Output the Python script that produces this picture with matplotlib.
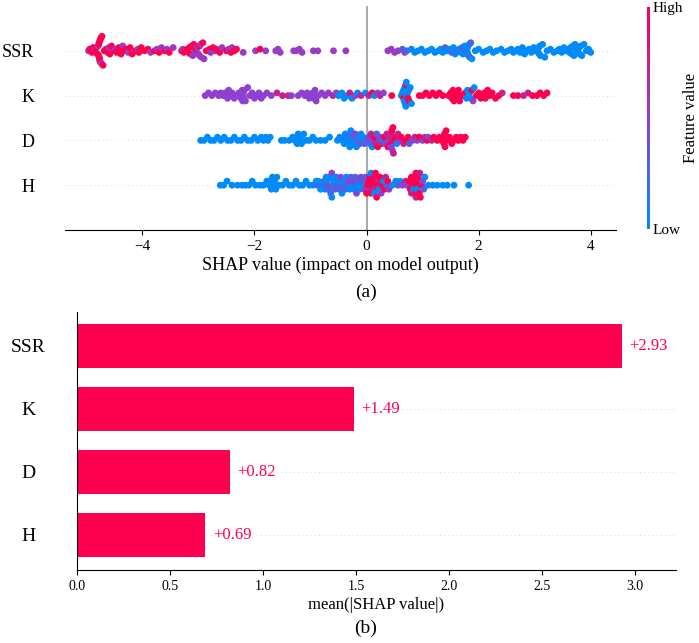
import numpy as np
import matplotlib
matplotlib.use("Agg")
import matplotlib.pyplot as plt
from matplotlib.colors import LinearSegmentedColormap

plt.rcParams['font.family'] = ['Liberation Serif', 'DejaVu Serif']

# ---- dados ----
features = ['SSR', 'K', 'D', 'H']          # de cima para baixo
mean_abs_shap = [2.93, 1.49, 0.82, 0.69]

# valores SHAP agrupados pelo nivel (cor) do valor da feature
ssr_hi = [-4.94, -4.90, -4.88, -4.86, -4.84, -4.82, -4.80, -4.78, -4.78, -4.77, -4.77, -4.76,
          -4.76, -4.76, -4.75, -4.75, -4.74, -4.72, -4.70, -4.68, -4.65, -4.62, -4.58, -4.55,
          -4.50, -4.46, -4.42, -4.38, -4.33, -4.28, -4.22, -4.18, -4.12, -4.06, -4.02, -3.96,
          -3.90, -3.78, -3.70, -3.60, -3.52, -3.30, -3.26, -3.22, -3.20, -3.18, -3.16, -3.14,
          -3.12, -3.08, -3.04, -2.98, -2.92, -2.86, -2.80, -2.74, -2.68, -2.62, -2.50, -2.42,
          -2.36, -2.32, -1.90]
ssr_mid = [-4.96, -4.85, -4.79, -4.73, -4.60, -4.48, -4.35, -4.25, -4.08, -3.85, -3.74, -3.66,
           -3.56, -3.45, -3.28, -3.10, -3.06, -3.04, -3.02, -3.00, -2.98, -2.96, -2.95, -2.90,
           -2.78, -2.70, -2.58, -2.46, -2.40, -2.20, -1.98, -1.80, -1.62, -1.58, -1.54, -1.30,
           -1.25, -1.20, -1.15, -0.95, -0.87, -0.59, -0.37, 0.38, 0.44, 0.50, 0.56, 0.68]
ssr_vio = [0.64, 0.72, 1.40, 1.52, 1.62, 1.70, 1.78, 1.80, 1.84, 1.86]
ssr_lo = [0.80, 0.86, 0.92, 0.98, 1.04, 1.10, 1.16, 1.22, 1.28, 1.32, 1.36, 1.44, 1.48, 1.55,
          1.58, 1.65, 1.68, 1.72, 1.75, 1.78, 1.80, 1.80, 1.81, 1.82, 1.83, 1.88, 1.94, 2.00,
          2.08, 2.14, 2.20, 2.26, 2.32, 2.40, 2.46, 2.52, 2.58, 2.62, 2.66, 2.70, 2.74, 2.78,
          2.82, 2.86, 2.90, 2.94, 2.98, 3.02, 3.05, 3.06, 3.07, 3.08, 3.09, 3.10, 3.14, 3.18,
          3.22, 3.28, 3.34, 3.40, 3.44, 3.48, 3.52, 3.56, 3.60, 3.62, 3.64, 3.66, 3.68, 3.70,
          3.72, 3.74, 3.76, 3.78, 3.79, 3.80, 3.82, 3.84, 3.88, 3.92, 3.96, 4.00]

k_hi = [0.10, 0.45, 0.66, 0.70, 0.74, 0.76, 0.94, 1.00, 1.06, 1.12, 1.18, 1.24, 1.30, 1.36,
        1.46, 1.50, 1.52, 1.54, 1.56, 1.58, 1.60, 1.62, 1.64, 1.66, 1.70, 1.76, 1.88, 1.96,
        2.00, 2.04, 2.08, 2.10, 2.12, 2.16, 2.20, 2.24, 2.30, 2.36, 2.62, 2.70, 2.96, 3.04,
        3.10, 3.16, 3.22]
k_mag = [-1.60, -1.50, -1.40, -0.60, -0.30, -0.10, 0.04, 0.24, 2.42, 2.80, 2.88]
k_mid = [-2.88, -2.82, -2.76, -2.70, -2.64, -2.60, -2.56, -2.52, -2.48, -2.46, -2.44, -2.40,
         -2.36, -2.32, -2.28, -2.24, -2.22, -2.21, -2.20, -2.20, -2.19, -2.18, -2.16, -2.12,
         -2.08, -2.04, -2.00, -1.96, -1.92, -1.88, -1.84, -1.78, -1.70, -1.34, -1.22, -1.16,
         -1.10, -1.06, -1.02, -0.98, -0.96, -0.94, -0.92, -0.90, -0.86, -0.80, -0.74, -0.68,
         -0.54, -0.20, 0.20, 0.30, 1.90]
k_lo = [-0.50, -0.44, -0.40, -0.34, -0.26, -0.16, -0.02, 0.14, 0.62, 0.64, 0.66, 0.67, 0.68,
        0.69, 0.70, 0.71, 0.72, 0.73, 0.75, 0.78, 0.80, 1.78, 1.80, 1.82, 1.84, 1.86, 1.92]

d_hi = [0.14, 0.20, 0.32, 0.38, 0.43, 0.45, 0.47, 0.50, 0.52, 0.62, 0.70, 0.74, 0.94, 1.08,
        1.20, 1.26, 1.30, 1.34, 1.36, 1.38, 1.39, 1.40, 1.42, 1.44, 1.48, 1.52, 1.56, 1.60,
        1.64, 1.68, 1.72, 1.76]
d_mag = [0.08, 0.16, 0.28, 0.36, 0.42, 0.44, 0.48, 0.56, 0.66, 0.86, 1.04, 1.16]
d_mid = [-0.20, 0.04, 0.12, 0.22, 0.26, 0.34, 0.44, 0.46, 0.60, 0.82, 0.90, 1.00, 1.10]
d_vio = [-0.40, -0.30, -0.24, -0.16, -0.12, -0.08, -0.04, 0.02, 0.06, 0.18, 0.40, 0.76]
d_lo = [-2.96, -2.90, -2.84, -2.78, -2.72, -2.66, -2.60, -2.54, -2.48, -2.42, -2.36, -2.30,
        -2.24, -2.18, -2.12, -2.06, -2.00, -1.94, -1.88, -1.84, -1.80, -1.76, -1.72, -1.52,
        -1.46, -1.38, -1.32, -1.28, -1.26, -1.24, -1.22, -1.20, -1.18, -1.16, -1.12, -1.08,
        -1.02, -0.96, -0.90, -0.82, -0.74, -0.66, -0.52, -0.48, -0.44, -0.40, -0.38, -0.36,
        -0.34, -0.32, -0.30, -0.28, -0.26, -0.22, -0.18, -0.14, -0.10, -0.06, 0.10, 0.30, 0.54]

h_hi = [0.00, 0.02, 0.04, 0.06, 0.08, 0.10, 0.12, 0.14, 0.16, 0.18, 0.20, 0.24, 0.28, 0.32,
        0.38, 0.76, 0.78, 0.80, 0.82, 0.84, 0.86, 0.87, 0.88, 0.89, 0.90, 0.92, 0.94, 0.96, 0.98]
h_mag = [0.05, 0.12, 0.20, 0.34, 0.70, 0.80, 0.88, 0.95]
h_mid = [-0.70, -0.62, -0.46, -0.32, -0.24, -0.18, -0.10, -0.04, 0.26, 0.40, 0.64, 0.72, 1.00]
h_vio = [-0.88, -0.76, -0.68, -0.64, -0.60, -0.56, -0.52, -0.48, -0.42, -0.38, -0.34, -0.28,
         -0.20, -0.14, -0.06, -0.02, 0.36, 0.56, 1.02]
h_lo = [-2.61, -2.55, -2.49, -2.40, -2.30, -2.22, -2.16, -2.10, -2.04, -1.98, -1.90, -1.84,
        -1.78, -1.74, -1.72, -1.70, -1.68, -1.66, -1.64, -1.62, -1.60, -1.56, -1.50, -1.44,
        -1.38, -1.32, -1.26, -1.20, -1.14, -1.08, -1.02, -0.96, -0.90, -0.86, -0.82, -0.78,
        -0.74, -0.72, -0.70, -0.66, -0.62, -0.58, -0.54, -0.50, -0.44, -0.40, -0.36, -0.30,
        -0.26, -0.22, -0.16, -0.12, -0.08, 0.08, 0.14, 0.22, 0.30, 0.46, 0.52, 0.60, 0.84,
        0.90, 1.04, 1.10, 1.18, 1.26, 1.36, 1.44, 1.56, 1.82]

# nivel do valor da feature (0 = baixo, 1 = alto) para cada grupo
grupos = {
    'SSR': [(ssr_hi, 1.0), (ssr_mid, 0.55), (ssr_vio, 0.25), (ssr_lo, 0.0)],
    'K': [(k_hi, 1.0), (k_mag, 0.75), (k_mid, 0.5), (k_lo, 0.0)],
    'D': [(d_hi, 1.0), (d_mag, 0.75), (d_mid, 0.5), (d_vio, 0.28), (d_lo, 0.0)],
    'H': [(h_hi, 1.0), (h_mag, 0.75), (h_mid, 0.5), (h_vio, 0.28), (h_lo, 0.0)],
}

RED = '#ff0051'
cmap = LinearSegmentedColormap.from_list('red_blue', ['#008bfb', '#9040d0', RED])


def espalhar(vals, row_height=0.4, nbins=50):
    """Deslocamento vertical estilo beeswarm do SHAP (sem aleatoriedade)."""
    vals = np.asarray(vals)
    quant = np.round(nbins * (vals - vals.min()) / (vals.max() - vals.min() + 1e-8))
    inds = np.lexsort((vals, quant))
    ys = np.zeros(len(vals))
    layer = 0
    last_bin = -1
    for ind in inds:
        if quant[ind] != last_bin:
            layer = 0
        ys[ind] = np.ceil(layer / 2) * ((layer % 2) * 2 - 1)
        layer += 1
        last_bin = quant[ind]
    ys *= 0.9 * (row_height / np.max(ys + 1))
    return ys


fig = plt.figure(figsize=(6.99, 6.43), dpi=100)

# ---- (a) beeswarm ----
ax1 = fig.add_axes([65 / 699, 1 - 230 / 643, 551 / 699, 224 / 643])
n = len(features)
for i, f in enumerate(features):
    pos = n - 1 - i
    ax1.axhline(pos, color='#cccccc', lw=0.6, dashes=(1, 4), zorder=-1)
    xs = np.concatenate([np.asarray(g) for g, _ in grupos[f]])
    cs = np.concatenate([np.full(len(g), v) for g, v in grupos[f]])
    ys = espalhar(xs)
    ordem = np.argsort(xs)
    ax1.scatter(xs[ordem], pos + ys[ordem], c=cs[ordem], cmap=cmap, vmin=0, vmax=1,
                s=24, linewidths=0, zorder=3)

ax1.axvline(0, color='#999999', lw=1.2, zorder=1)
ax1.set_xlim(-5.38, 4.45)
ax1.set_ylim(-1, n)
ax1.set_yticks(range(n))
ax1.set_yticklabels(features[::-1], fontsize=13)
ax1.tick_params(axis='y', length=0, pad=22)
ax1.tick_params(axis='x', labelsize=11)
ax1.set_xticks([-4, -2, 0, 2, 4])
for s in ['top', 'right', 'left']:
    ax1.spines[s].set_visible(False)
ax1.set_xlabel('SHAP value (impact on model output)', fontsize=13, labelpad=3)

cax = fig.add_axes([647 / 699, 1 - 229 / 643, 3 / 699, 222 / 643])
sm = plt.cm.ScalarMappable(cmap=cmap, norm=plt.Normalize(0, 1))
cb = fig.colorbar(sm, cax=cax, ticks=[0, 1])
cb.set_ticklabels(['Low', 'High'])
cb.ax.tick_params(labelsize=11, length=0, pad=2)
cb.outline.set_visible(False)
cb.set_label('Feature value', fontsize=12, labelpad=0)

fig.text(366 / 699, 1 - 292 / 643, '(a)', ha='center', va='center', fontsize=14)

# ---- (b) barras ----
ax2 = fig.add_axes([77 / 699, 1 - 570 / 643, 599 / 699, 258 / 643])
ypos = np.arange(n)[::-1]
for y in ypos:
    ax2.axhline(y, color='#cccccc', lw=0.6, dashes=(1, 4), zorder=-1)
ax2.barh(ypos, mean_abs_shap, height=0.7, color=RED, zorder=2)
for y, v in zip(ypos, mean_abs_shap):
    ax2.text(v + 0.04, y, f'+{v:.2f}', color=RED, fontsize=12, ha='left', va='center')
ax2.set_xlim(0, 3.22)
ax2.set_ylim(-0.56, 3.54)
ax2.set_yticks(ypos)
ax2.set_yticklabels(features, fontsize=14, ha='center')
ax2.tick_params(axis='y', length=0, pad=35)
ax2.tick_params(axis='x', labelsize=10)
ax2.set_xticks(np.arange(0, 3.01, 0.5))
for s in ['top', 'right']:
    ax2.spines[s].set_visible(False)
ax2.set_xlabel('mean(|SHAP value|)', fontsize=12, labelpad=3)

fig.text(366 / 699, 1 - 628 / 643, '(b)', ha='center', va='center', fontsize=14)

fig.savefig('out.png', dpi=100)
